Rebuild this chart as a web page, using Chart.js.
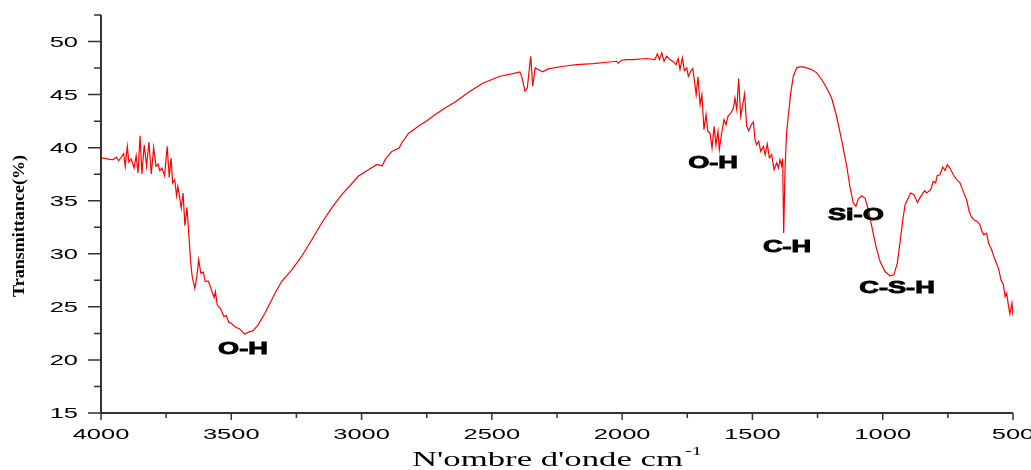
<!DOCTYPE html>
<html>
<head>
<meta charset="utf-8">
<script src="https://cdn.jsdelivr.net/npm/chart.js@4.4.0/dist/chart.umd.min.js"></script>
<style>
  html, body { margin: 0; padding: 0; background: #fff; }
  #wrap { width: 1031px; height: 470px; }
</style>
</head>
<body>
<div id="wrap"><canvas id="ftirChart"></canvas></div>
<script>
// spectre FTIR : nombre d'onde (cm-1) et transmittance (%)
const wavenumbers = [
  4000, 3986, 3967, 3954, 3941, 3932, 3922, 3913, 3907, 3899, 3893, 3884, 3873, 3865, 3858, 3850,
  3843, 3834, 3825, 3816, 3807, 3798, 3789, 3781, 3774, 3766, 3756, 3746, 3738, 3731, 3725, 3717,
  3710, 3705, 3700, 3692, 3685, 3678, 3670, 3662, 3656, 3650, 3640, 3633, 3625, 3617, 3607, 3600,
  3589, 3583, 3574, 3566, 3561, 3554, 3541, 3528, 3519, 3510, 3500, 3487, 3468, 3449, 3429, 3417,
  3397, 3371, 3332, 3307, 3268, 3230, 3191, 3153, 3115, 3076, 3038, 3013, 2974, 2942, 2920, 2910,
  2884, 2856, 2846, 2821, 2782, 2744, 2718, 2680, 2641, 2584, 2533, 2469, 2424, 2392, 2384, 2373,
  2364, 2351, 2343, 2334, 2322, 2305, 2283, 2226, 2174, 2111, 2059, 2021, 2015, 2002, 1983, 1957,
  1906, 1874, 1865, 1857, 1848, 1839, 1829, 1816, 1803, 1793, 1785, 1778, 1769, 1761, 1752, 1746,
  1737, 1729, 1724, 1716, 1709, 1701, 1694, 1686, 1678, 1671, 1663, 1655, 1647, 1640, 1632, 1627,
  1619, 1609, 1601, 1594, 1583, 1573, 1567, 1560, 1553, 1545, 1537, 1530, 1522, 1514, 1504, 1496,
  1490, 1484, 1476, 1468, 1458, 1451, 1443, 1435, 1426, 1417, 1407, 1400, 1394, 1388, 1384, 1380,
  1375, 1369, 1361, 1353, 1343, 1330, 1318, 1305, 1292, 1273, 1253, 1234, 1215, 1196, 1177, 1158,
  1138, 1126, 1113, 1103, 1094, 1081, 1068, 1055, 1042, 1026, 1010, 991, 972, 957, 944, 934,
  923, 914, 902, 893, 880, 867, 854, 839, 831, 816, 806, 797, 791, 780, 770, 761,
  752, 742, 729, 716, 703, 691, 678, 668, 660, 650, 637, 627, 619, 612, 601, 594,
  582, 569, 556, 546, 537, 530, 524, 518, 512, 504, 500
];
const transmittance = [
  39.03, 39.0, 38.9, 38.87, 39.1, 38.77, 39.12, 39.43, 38.24, 40.12, 38.65, 38.93, 38.08, 39.25, 37.61, 41.13,
  37.52, 40.28, 38.24, 40.54, 37.52, 40.03, 38.24, 38.46, 37.83, 38.08, 37.36, 40.12, 37.2, 39.03, 36.67, 36.98,
  35.47, 36.35, 35.57, 34.31, 35.73, 32.64, 34.37, 31.48, 29.27, 27.86, 26.76, 27.7, 29.43, 28.18, 28.27, 27.39,
  27.45, 27.08, 26.44, 25.88, 26.44, 25.19, 24.81, 24.08, 24.18, 23.55, 23.46, 23.14, 22.92, 22.45, 22.67, 22.74,
  23.3, 24.4, 26.29, 27.39, 28.49, 29.75, 31.32, 32.9, 34.31, 35.57, 36.6, 37.3, 37.92, 38.4, 38.3, 38.87,
  39.65, 39.97, 40.44, 41.32, 42.01, 42.64, 43.11, 43.74, 44.3, 45.31, 46.1, 46.73, 46.95, 47.14, 46.57, 45.31,
  45.63, 48.61, 45.8, 47.52, 47.36, 47.14, 47.42, 47.67, 47.83, 47.92, 48.05, 48.14, 47.96, 48.24, 48.3, 48.3,
  48.4, 48.3, 48.84, 48.3, 48.93, 48.14, 48.61, 48.3, 48.08, 47.83, 48.4, 47.36, 48.46, 47.26, 47.52, 46.73,
  47.2, 47.45, 46.57, 45.0, 46.67, 44.06, 45.0, 41.7, 43.11, 41.54, 41.39, 39.97, 42.01, 40.28, 41.54, 39.81,
  41.23, 42.64, 42.17, 42.96, 43.27, 43.74, 44.68, 43.58, 46.51, 42.96, 44.06, 45.07, 42.01, 41.6, 42.17, 42.42,
  40.75, 40.28, 40.59, 39.65, 40.12, 39.34, 40.35, 39.03, 39.34, 37.92, 38.55, 38.08, 38.87, 38.3, 38.96, 31.95,
  37.92, 41.39, 43.27, 45.16, 46.73, 47.52, 47.61, 47.61, 47.52, 47.36, 47.05, 46.42, 45.63, 44.68, 42.96, 40.75,
  38.24, 36.35, 34.78, 34.47, 35.16, 35.47, 35.25, 34.15, 32.58, 30.69, 29.27, 28.33, 27.92, 28.02, 29.12, 31.01,
  33.2, 34.62, 35.25, 35.73, 35.57, 34.84, 35.41, 35.94, 35.73, 36.04, 36.83, 36.67, 37.36, 37.45, 38.18, 37.86,
  38.4, 38.08, 37.45, 36.98, 36.67, 35.88, 35.09, 33.99, 33.52, 33.2, 33.05, 32.74, 32.11, 31.79, 31.95, 31.01,
  30.38, 29.43, 28.65, 27.55, 27.08, 25.97, 26.29, 25.19, 24.34, 25.35, 24.2
];

// graduations
const xMajorTicks = [4000, 3500, 3000, 2500, 2000, 1500, 1000, 500];
const xMinorTicks = [3750, 3250, 2750, 2250, 1750, 1250, 750];
const yMajorTicks = [15, 20, 25, 30, 35, 40, 45, 50];
const yMinorTicks = [17.5, 22.5, 27.5, 32.5, 37.5, 42.5, 47.5, 52.5];

// bandes d'absorption annotées
const bandNames = ['O-H', 'O-H', 'C-H', 'Si-O', 'C-S-H'];
const bandWn = [3455, 1651, 1367, 1103, 945];
const bandT = [21.13, 38.58, 30.66, 33.68, 26.84];

const AXIS_COLOR = '#333';

// texte étiré horizontalement (comme l'image d'origine)
function stretchText(ctx, text, x, y, sx, align, baseline, outline) {
  ctx.save();
  ctx.translate(x, y);
  ctx.scale(sx, 1);
  ctx.textAlign = align;
  ctx.textBaseline = baseline;
  ctx.fillText(text, 0, 0);
  if (outline) {
    ctx.lineWidth = outline;
    ctx.strokeStyle = ctx.fillStyle;
    ctx.strokeText(text, 0, 0);
  }
  ctx.restore();
}

const axisDecor = {
  id: 'axisDecor',
  afterDraw(chart) {
    const { ctx, chartArea } = chart;
    const xs = chart.scales.x;
    const ys = chart.scales.y;
    ctx.save();

    // traits de graduation
    ctx.strokeStyle = AXIS_COLOR;
    ctx.lineWidth = 1.5;
    ctx.beginPath();
    yMajorTicks.forEach(v => {
      const p = ys.getPixelForValue(v);
      ctx.moveTo(chartArea.left - 13, p); ctx.lineTo(chartArea.left, p);
    });
    yMinorTicks.forEach(v => {
      const p = ys.getPixelForValue(v);
      ctx.moveTo(chartArea.left - 7, p); ctx.lineTo(chartArea.left, p);
    });
    xMajorTicks.forEach(v => {
      const p = xs.getPixelForValue(v);
      ctx.moveTo(p, chartArea.bottom); ctx.lineTo(p, chartArea.bottom + 7);
    });
    xMinorTicks.forEach(v => {
      const p = xs.getPixelForValue(v);
      ctx.moveTo(p, chartArea.bottom); ctx.lineTo(p, chartArea.bottom + 5);
    });
    ctx.stroke();

    // axes
    ctx.lineWidth = 2;
    ctx.beginPath();
    ctx.moveTo(chartArea.left, chartArea.top);
    ctx.lineTo(chartArea.left, chartArea.bottom);
    ctx.lineTo(chartArea.right, chartArea.bottom);
    ctx.stroke();

    // étiquettes des graduations
    ctx.fillStyle = '#000';
    ctx.font = "15px 'Liberation Sans', Arial, sans-serif";
    yMajorTicks.forEach(v => {
      stretchText(ctx, String(v), chartArea.left - 23, ys.getPixelForValue(v) + 1, 1.7, 'right', 'middle');
    });
    xMajorTicks.forEach(v => {
      stretchText(ctx, String(v), xs.getPixelForValue(v), chartArea.bottom + 22, 1.7, 'center', 'middle');
    });

    // bandes
    ctx.font = "bold 17px 'Liberation Sans', Arial, sans-serif";
    bandNames.forEach((name, i) => {
      stretchText(ctx, name, xs.getPixelForValue(bandWn[i]), ys.getPixelForValue(bandT[i]) + 1, 1.6, 'center', 'middle', 0.9);
    });

    // titre de l'axe Y
    ctx.font = "bold 17px 'Liberation Serif', 'Times New Roman', serif";
    const yTitle = 'Transmittance(%)';
    const yW = ctx.measureText(yTitle).width;
    ctx.save();
    ctx.translate(20, (chartArea.top + chartArea.bottom) / 2 + 12);
    ctx.rotate(-Math.PI / 2);
    stretchText(ctx, yTitle, 0, 0, 142 / yW, 'center', 'middle');
    ctx.restore();

    // titre de l'axe X avec exposant
    ctx.font = "22px 'Liberation Serif', 'Times New Roman', serif";
    const xTitle = "N'ombre d'onde cm";
    const xW = ctx.measureText(xTitle).width;
    const sx = 271 / xW;
    stretchText(ctx, xTitle, 412, 466, sx, 'left', 'alphabetic');
    ctx.font = "13px 'Liberation Serif', 'Times New Roman', serif";
    stretchText(ctx, '-1', 412 + 273, 455, sx, 'left', 'alphabetic');

    ctx.restore();
  }
};

const ctx = document.getElementById('ftirChart').getContext('2d');
const ftirChart = new Chart(ctx, {
  type: 'line',
  data: {
    datasets: [{
      label: 'Transmittance',
      data: wavenumbers.map((w, i) => ({ x: w, y: transmittance[i] })),
      borderColor: '#ff0000',
      borderWidth: 1.2,
      pointRadius: 0,
      tension: 0,
      fill: false
    }]
  },
  options: {
    responsive: true,
    maintainAspectRatio: false,
    animation: false,
    layout: { padding: { top: 15, right: 18, left: 0, bottom: 0 } },
    plugins: {
      legend: { display: false },
      tooltip: { enabled: false }
    },
    scales: {
      x: {
        type: 'linear',
        reverse: true,
        min: 500,
        max: 4000,
        grid: { display: false },
        border: { display: false },
        ticks: { display: false },
        afterFit: s => { s.height = 57; }
      },
      y: {
        min: 15,
        max: 52.5,
        grid: { display: false },
        border: { display: false },
        ticks: { display: false },
        afterFit: s => { s.width = 101; }
      }
    }
  },
  plugins: [axisDecor]
});
</script>
</body>
</html>
